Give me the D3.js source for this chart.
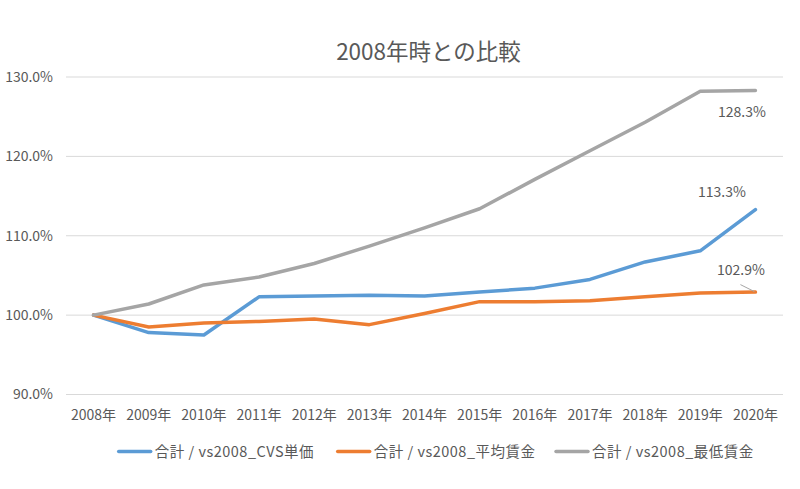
<!DOCTYPE html>
<html>
<head>
<meta charset="utf-8">
<script src="https://cdn.jsdelivr.net/npm/d3@7"></script>
<style>
  body { margin: 0; background: #fff; }
  text { font-family: "Noto Sans CJK JP", "Noto Sans", sans-serif; fill: #595959; }
</style>
</head>
<body>
<div id="chart"></div>
<script>
const years = ["2008年", "2009年", "2010年", "2011年", "2012年", "2013年", "2014年",
  "2015年", "2016年", "2017年", "2018年", "2019年", "2020年"];
const cvs_price = [100, 97.8, 97.5, 102.3, 102.4, 102.5, 102.4, 102.9, 103.4, 104.5, 106.7, 108.1, 113.3];
const avg_wage = [100, 98.5, 99.0, 99.2, 99.5, 98.8, 100.2, 101.7, 101.7, 101.8, 102.3, 102.8, 102.9];
const min_wage = [100, 101.4, 103.8, 104.8, 106.5, 108.7, 111.0, 113.4, 117.1, 120.7, 124.3, 128.2, 128.3];
const y_ticks = [90, 100, 110, 120, 130];

const series = [
  { name: "合計 / vs2008_CVS単価", values: cvs_price, color: "#5B9BD5" },
  { name: "合計 / vs2008_平均賃金", values: avg_wage, color: "#ED7D31" },
  { name: "合計 / vs2008_最低賃金", values: min_wage, color: "#A5A5A5" }
];

const width = 800, height = 489;
const svg = d3.select("#chart").append("svg")
  .attr("width", width)
  .attr("height", height);

const x = d3.scaleBand().domain(years).range([66, 783]);
const y = d3.scaleLinear().domain([90, 130]).range([394.5, 77]);

// title
svg.append("text")
  .attr("x", 428.5)
  .attr("y", 60)
  .attr("text-anchor", "middle")
  .attr("font-size", "22.5px")
  .text("2008年時との比較");

// gridlines
svg.append("g")
  .selectAll("line")
  .data(y_ticks)
  .join("line")
  .attr("x1", 66)
  .attr("x2", 783)
  .attr("y1", d => y(d))
  .attr("y2", d => y(d))
  .attr("stroke", "#D9D9D9")
  .attr("stroke-width", 1);

// y axis labels
const yAxis = svg.append("g")
  .attr("transform", "translate(53,0)")
  .call(d3.axisLeft(y).tickValues(y_ticks).tickSize(0).tickFormat(d => d.toFixed(1) + "%"));
yAxis.select(".domain").remove();
yAxis.selectAll("text")
  .attr("font-size", "14px")
  .attr("font-family", null)
  .attr("fill", null)
  .attr("x", 0);

// x axis labels
const xAxis = svg.append("g")
  .attr("transform", "translate(0,415)")
  .call(d3.axisBottom(x).tickSize(0));
xAxis.select(".domain").remove();
xAxis.selectAll("text")
  .attr("font-size", "14px")
  .attr("font-family", null)
  .attr("fill", null)
  .attr("dy", "0.35em")
  .attr("y", 0);

const cx = d => x(d) + x.bandwidth() / 2;

const line = d3.line()
  .x((d, i) => cx(years[i]))
  .y(d => y(d));

svg.append("g")
  .selectAll("path")
  .data(series)
  .join("path")
  .attr("d", d => line(d.values))
  .attr("fill", "none")
  .attr("stroke", d => d.color)
  .attr("stroke-width", 3.5)
  .attr("stroke-linejoin", "round")
  .attr("stroke-linecap", "round");

// data labels for last year
const last = years.length - 1;
const lastX = cx(years[last]);
svg.append("text")
  .attr("x", lastX - 13.5)
  .attr("y", y(min_wage[last]) + 27)
  .attr("text-anchor", "middle")
  .attr("font-size", "14px")
  .text(min_wage[last].toFixed(1) + "%");
svg.append("text")
  .attr("x", lastX - 33.5)
  .attr("y", y(cvs_price[last]) - 12.5)
  .attr("text-anchor", "middle")
  .attr("font-size", "14px")
  .text(cvs_price[last].toFixed(1) + "%");
svg.append("text")
  .attr("x", lastX - 14.5)
  .attr("y", y(avg_wage[last]) - 17)
  .attr("text-anchor", "middle")
  .attr("font-size", "14px")
  .text(avg_wage[last].toFixed(1) + "%");
svg.append("line")
  .attr("x1", lastX - 15)
  .attr("y1", y(avg_wage[last]) - 7.5)
  .attr("x2", lastX - 1)
  .attr("y2", y(avg_wage[last]) - 0.5)
  .attr("stroke", "#A6A6A6")
  .attr("stroke-width", 1);

// legend
const legend_x = [117.7, 336.7, 555];
const lg = svg.append("g")
  .selectAll("g")
  .data(series)
  .join("g")
  .attr("transform", (d, i) => `translate(${legend_x[i]},451.5)`);
lg.append("line")
  .attr("x1", 1)
  .attr("x2", 33)
  .attr("stroke", d => d.color)
  .attr("stroke-width", 3.5)
  .attr("stroke-linecap", "round");
lg.append("text")
  .attr("x", 37)
  .attr("dy", "0.35em")
  .attr("font-size", "14.5px")
  .attr("letter-spacing", "0.5px")
  .text(d => d.name);
</script>
</body>
</html>
